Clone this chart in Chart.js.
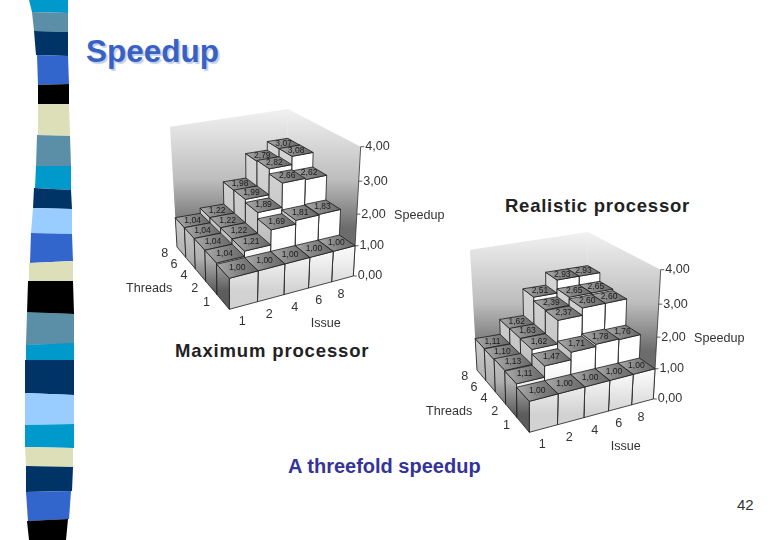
<!DOCTYPE html>
<html>
<head>
<meta charset="utf-8">
<title>Speedup</title>
<script src="https://cdn.jsdelivr.net/npm/chart.js@4"></script>
<style>
  html, body { margin: 0; padding: 0; background: #fff; }
  body { position: relative; width: 780px; height: 540px; overflow: hidden; font-family: "Liberation Sans", Arial, sans-serif; }
  .strip { position: absolute; left: 0; top: 0; }
  .chart-box { position: absolute; width: 340px; height: 240px; }
  .txt { position: absolute; line-height: 1; white-space: nowrap; }
  .title { left: 86px; top: 36px; font-size: 31.5px; font-weight: bold; color: #3762c4; text-shadow: 2px 2px 1px #c3cfe8; }
  .caption { font-size: 18.5px; font-weight: bold; color: #222; }
  .note { left: 288px; top: 456px; font-size: 20px; font-weight: bold; color: #333399; }
  .page { left: 737px; top: 497px; font-size: 15px; color: #333; }
</style>
</head>
<body>

<svg class="strip" width="110" height="540">
  <polygon fill="#0099cc" points="29,0 68,0 68,13 32,12"/>
  <polygon fill="#5b8fa8" points="32,12 68,13 68,32 34,31"/>
  <polygon fill="#003366" points="34,31 68,32 68,56 36,55"/>
  <polygon fill="#3366cc" points="37,55 68,56 69,84 38,85"/>
  <polygon fill="#000000" points="38,85 69,84 69,104 38,105"/>
  <polygon fill="#dddfb8" points="38,104 69,104 70,136 38,135"/>
  <polygon fill="#5b8fa8" points="37,135 70,136 71,166 36,166"/>
  <polygon fill="#0099cc" points="36,166 71,166 71,190 35,188"/>
  <polygon fill="#003366" points="34,188 71,190 72,209 33,208"/>
  <polygon fill="#99ccff" points="33,208 72,209 72,234 31,233"/>
  <polygon fill="#3366cc" points="31,233 72,234 73,261 30,263"/>
  <polygon fill="#dddfb8" points="29,263 73,261 73,281 29,281"/>
  <polygon fill="#000000" points="28,281 73,281 74,314 27,313"/>
  <polygon fill="#5b8fa8" points="27,312 74,314 74,344 26,345"/>
  <polygon fill="#0099cc" points="26,345 74,343 74,360 26,360"/>
  <polygon fill="#003366" points="25,360 74,360 74,395 25,393"/>
  <polygon fill="#99ccff" points="25,393 74,395 74,424 25,425"/>
  <polygon fill="#0099cc" points="25,425 74,424 74,448 25,447"/>
  <polygon fill="#dddfb8" points="25,447 73,448 73,467 26,466"/>
  <polygon fill="#003366" points="26,466 73,467 72,491 26,492"/>
  <polygon fill="#3366cc" points="26,492 71,491 69,519 28,521"/>
  <polygon fill="#000000" points="27,521 68,519 66,540 29,540"/>
</svg>

<div class="txt title">Speedup</div>
<div class="txt caption" style="left:505px; top:197px; letter-spacing:.75px;">Realistic processor</div>
<div class="txt caption" style="left:175px; top:342px; letter-spacing:.85px;">Maximum processor</div>
<div class="txt note">A threefold speedup</div>
<div class="txt page">42</div>

<div class="chart-box" style="left:120px; top:100px;"><canvas id="chart-max" width="340" height="240"></canvas></div>
<div class="chart-box" style="left:420px; top:223px;"><canvas id="chart-real" width="340" height="240"></canvas></div>

<script>
const issueLabels = ['1', '2', '4', '6', '8'];
const threadLabels = ['1', '2', '4', '6', '8'];
const speedupTicks = [0, 1, 2, 3, 4];

// one array per thread count, values follow issueLabels
const maxThreads1 = [1.00, 1.00, 1.00, 1.00, 1.00];
const maxThreads2 = [1.04, 1.21, 1.69, 1.81, 1.83];
const maxThreads4 = [1.04, 1.22, 1.89, 2.66, 2.62];
const maxThreads6 = [1.04, 1.22, 1.99, 2.82, 3.08];
const maxThreads8 = [1.04, 1.22, 1.98, 2.79, 3.07];

const realThreads1 = [1.00, 1.00, 1.00, 1.00, 1.00];
const realThreads2 = [1.11, 1.47, 1.71, 1.78, 1.76];
const realThreads4 = [1.13, 1.62, 2.37, 2.60, 2.60];
const realThreads6 = [1.10, 1.63, 2.39, 2.65, 2.65];
const realThreads8 = [1.11, 1.62, 2.51, 2.93, 2.93];

// Corners of the 3D box inside the canvas: front, right, back, left
const FLOOR = [[109.3, 209.3], [233.3, 176], [167, 127], [57, 147]];
const CEILING = [[109.3, 77], [240.7, 46.7], [168, 9], [50, 26.7]];

function quadMap(q) {
  const [[x0, y0], [x1, y1], [x2, y2], [x3, y3]] = q;
  const dx1 = x1 - x2, dx2 = x3 - x2, dx3 = x0 - x1 + x2 - x3;
  const dy1 = y1 - y2, dy2 = y3 - y2, dy3 = y0 - y1 + y2 - y3;
  const den = dx1 * dy2 - dx2 * dy1;
  const g = (dx3 * dy2 - dx2 * dy3) / den;
  const h = (dx1 * dy3 - dx3 * dy1) / den;
  const a = x1 - x0 + g * x1, b = x3 - x0 + h * x3;
  const d = y1 - y0 + g * y1, e = y3 - y0 + h * y3;
  return (u, w) => {
    const k = g * u + h * w + 1;
    return [(a * u + b * w + x0) / k, (d * u + e * w + y0) / k];
  };
}
const floorMap = quadMap(FLOOR);
const ceilMap = quadMap(CEILING);

// u = issue fraction, w = thread fraction, h = height fraction, all 0..1
function project(u, w, h) {
  const t = h / (1 + 0.09 * (1 - h));
  const a = floorMap(u, w), b = ceilMap(u, w);
  return [a[0] + (b[0] - a[0]) * t, a[1] + (b[1] - a[1]) * t];
}

function fill(ctx, pts, style, stroke) {
  ctx.beginPath();
  pts.forEach((p, i) => i ? ctx.lineTo(p[0], p[1]) : ctx.moveTo(p[0], p[1]));
  ctx.closePath();
  ctx.fillStyle = style;
  ctx.fill();
  if (stroke) {
    ctx.strokeStyle = '#1c1c1c';
    ctx.lineWidth = 0.8;
    ctx.stroke();
  }
}

function heightGradient(ctx, stops) {
  const y0 = project(0.5, 0, 0)[1], y1 = project(0.5, 0, 1)[1];
  const grad = ctx.createLinearGradient(0, y0, 0, y1);
  stops.forEach(s => grad.addColorStop(s[0], s[1]));
  return grad;
}

const bars3d = {
  id: 'bars3d',
  afterDatasetsDraw(chart) {
    const ctx = chart.ctx;
    const sx = chart.scales.x, st = chart.scales.threads, sy = chart.scales.y;
    const fx = v => (sx.getPixelForValue(v) - sx.left) / sx.width;
    const ft = v => (st.getPixelForValue(v) - st.left) / st.width;
    const fy = v => (sy.bottom - sy.getPixelForValue(v)) / sy.height;

    ctx.save();

    // back walls
    const wall = ctx.createLinearGradient(0, 8, 0, 128);
    wall.addColorStop(0, '#f2f2f2');
    wall.addColorStop(0.6, '#bdbdbd');
    wall.addColorStop(1, '#6c6c6c');
    fill(ctx, [project(0, 1, 0), project(1, 1, 0), project(1, 1, 1), project(0, 1, 1)], wall);
    fill(ctx, [project(1, 0, 0), project(1, 1, 0), project(1, 1, 1), project(1, 0, 1)], wall);

    // speedup axis on the right edge
    ctx.strokeStyle = '#333';
    ctx.lineWidth = 0.8;
    ctx.beginPath();
    ctx.moveTo(...project(1, 0, fy(0)));
    ctx.lineTo(...project(1, 0, fy(4)));
    ctx.stroke();

    const frontFill = heightGradient(ctx, [[0, '#d2d2d2'], [0.25, '#f2f2f2'], [0.4, '#ffffff'], [1, '#ffffff']]);
    const sideFill = heightGradient(ctx, [[0, '#5c5c5c'], [0.25, '#b0b0b0'], [0.5, '#c6c6c6'], [1, '#d4d4d4']]);

    // far rows first so the nearer bars paint over them
    for (let d = chart.data.datasets.length - 1; d >= 0; d--) {
      const meta = chart.getDatasetMeta(d);
      const w0 = ft(d), w1 = ft(d + 1);
      for (let i = meta.data.length - 1; i >= 0; i--) {
        const el = meta.data[i];
        const u0 = (el.x - sx.left) / sx.width, u1 = fx(i + 1);
        const h = (sy.bottom - el.y) / sy.height;
        fill(ctx, [project(u0, w0, 0), project(u1, w0, 0), project(u1, w0, h), project(u0, w0, h)], frontFill, true);
        fill(ctx, [project(u0, w0, 0), project(u0, w1, 0), project(u0, w1, h), project(u0, w0, h)], sideFill, true);

        const left = project(u0, w1, h), right = project(u1, w0, h);
        const topFill = ctx.createLinearGradient(left[0], 0, right[0], 0);
        topFill.addColorStop(0, '#aaaaaa');
        topFill.addColorStop(0.5, '#858585');
        topFill.addColorStop(1, '#686868');
        fill(ctx, [project(u0, w0, h), project(u1, w0, h), project(u1, w1, h), project(u0, w1, h)], topFill, true);

        const c = project((u0 + u1) / 2, (w0 + w1) / 2, h);
        ctx.fillStyle = '#1a1a1a';
        ctx.font = '8.5px "Liberation Sans", Arial, sans-serif';
        ctx.textAlign = 'center';
        ctx.textBaseline = 'middle';
        ctx.fillText(chart.data.datasets[d].data[i].y.toFixed(2).replace('.', ','), c[0], c[1]);
      }
    }

    // axis labels
    ctx.fillStyle = '#333';
    ctx.font = '12.6px "Liberation Sans", Arial, sans-serif';
    ctx.textBaseline = 'middle';
    ctx.textAlign = 'center';
    issueLabels.forEach((label, i) => {
      const p = project(fx(i + 0.5), 0, 0);
      ctx.fillText(label, p[0] - 1.5, p[1] + 16);
    });
    threadLabels.forEach((label, i) => {
      const p = project(0, ft(i + 0.5), 0);
      ctx.fillText(label, p[0] - 16.5, p[1] + 1);
    });
    ctx.textAlign = 'left';
    speedupTicks.forEach(v => {
      const p = project(1, 0, fy(v));
      ctx.strokeStyle = '#333';
      ctx.beginPath();
      ctx.moveTo(p[0], p[1]);
      ctx.lineTo(p[0] + 3.5, p[1]);
      ctx.stroke();
      ctx.fillText(v.toFixed(2).replace('.', ','), p[0] + 4.5, p[1]);
    });
    ctx.fillText('Threads', 6, 188.3);
    ctx.fillText('Issue', 190.7, 223.3);
    ctx.fillText('Speedup', 274, 115.7);

    ctx.restore();
  }
};

function makeChart(id, rows) {
  new Chart(document.getElementById(id), {
    type: 'scatter',
    data: {
      datasets: rows.map((values, t) => ({
        label: 'Threads ' + threadLabels[t],
        data: values.map((v, i) => ({ x: i, y: v })),
        pointRadius: 0
      }))
    },
    options: {
      responsive: false,
      animation: false,
      plugins: { legend: { display: false }, tooltip: { enabled: false } },
      scales: {
        x: { type: 'linear', min: 0, max: issueLabels.length, display: false },
        threads: { type: 'linear', axis: 'x', min: 0, max: threadLabels.length, display: false },
        y: { type: 'linear', min: 0, max: 4, display: false }
      }
    },
    plugins: [bars3d]
  });
}

makeChart('chart-max', [maxThreads1, maxThreads2, maxThreads4, maxThreads6, maxThreads8]);
makeChart('chart-real', [realThreads1, realThreads2, realThreads4, realThreads6, realThreads8]);
</script>
</body>
</html>
